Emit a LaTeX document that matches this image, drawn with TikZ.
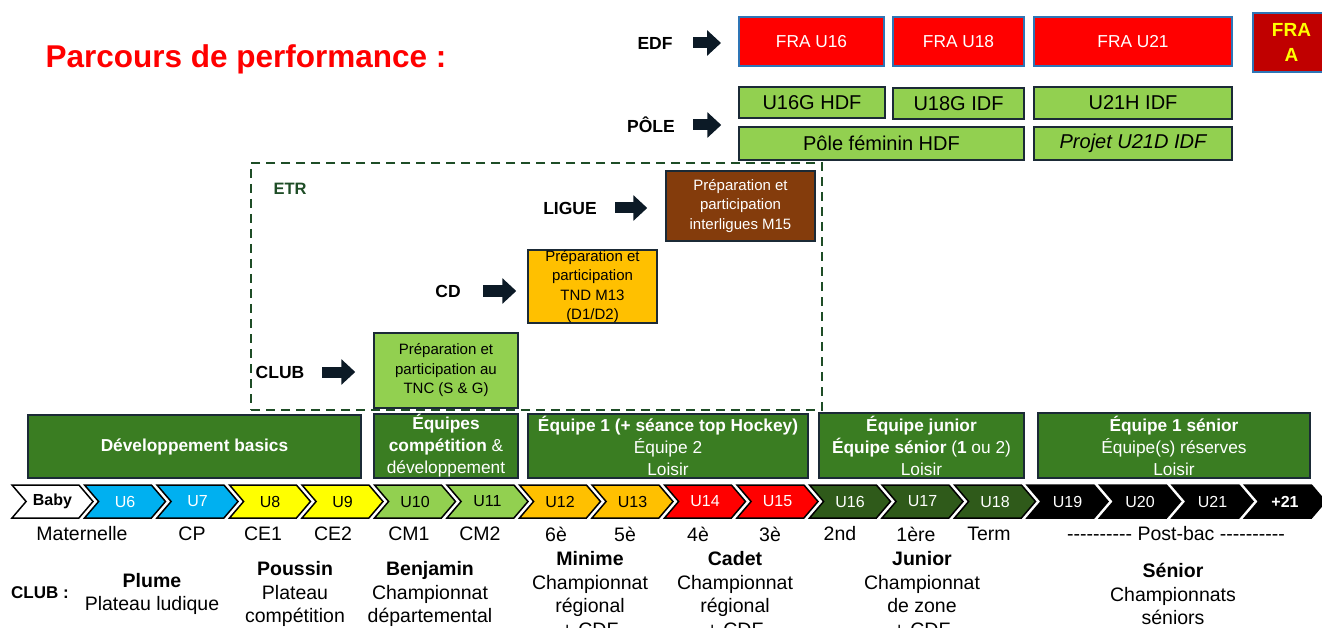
\documentclass[tikz,border=0pt]{standalone}
\usepackage{fontspec}
\setmainfont{Liberation Sans}
\usepackage{xcolor}
\usetikzlibrary{arrows.meta, positioning, shapes.symbols}

\definecolor{fraRed}{HTML}{FF0000}
\definecolor{fraBlue}{HTML}{2E75B6}
\definecolor{fraDark}{HTML}{C00000}
\definecolor{lightGreen}{HTML}{92D050}
\definecolor{boxLine}{HTML}{1B2A36}
\definecolor{bandGreen}{HTML}{3A7D22}
\definecolor{etrGreen}{HTML}{1E4D26}
\definecolor{brownBox}{HTML}{843C0C}
\definecolor{orangeBox}{HTML}{FFC000}
\definecolor{chevBlue}{HTML}{00B0F0}
\definecolor{chevYellow}{HTML}{FFFF00}
\definecolor{chevDark}{HTML}{2F5A1A}
\definecolor{arrowInk}{HTML}{0C1A26}

% ten plain hyphens, no TeX dash ligature
\newcommand{\tenhyph}{-{}-{}-{}-{}-{}-{}-{}-{}-{}-}

\tikzset{
  box/.style={draw=boxLine, line width=1.5pt, inner sep=0pt, align=center},
  edfbox/.style={box, draw=fraBlue, line width=2pt, fill=fraRed, text=white, minimum height=49pt, font=\fontsize{17.3}{20}\selectfont},
  polebox/.style={box, fill=lightGreen, font=\fontsize{20}{24}\selectfont},
  band/.style={box, fill=bandGreen, text=white, font=\fontsize{17.3}{22}\selectfont},
  etrbox/.style={box, font=\fontsize{15}{19.5}\selectfont},
  lab/.style={font=\bfseries\fontsize{17.5}{20}\selectfont},
  bigarrow/.style={arrowInk, line width=11pt, -{Triangle[length=14pt, width=25pt]}},
  chev/.style={signal, signal from=west, signal to=east, signal pointer angle=99,
    draw=black, line width=1.5pt, minimum width=81pt, minimum height=33pt,
    inner sep=0pt, font=\fontsize{16}{18}\selectfont},
  grade/.style={font=\fontsize{19.5}{23.5}\selectfont},
  level/.style={align=center, font=\fontsize{19.5}{23.5}\selectfont},
}

\begin{document}
\begin{tikzpicture}[x=1pt, y=-1pt]
    \path[use as bounding box] (0,0) rectangle (1322,628);
    \clip (0,0) rectangle (1322,628);

    % title
    \node[anchor=west, text=fraRed, font=\bfseries\fontsize{31.5}{36}\selectfont] (title) at (42,59) {Parcours de performance :};

    % EDF row
    \node[lab] (edf) at (655,43) {EDF};
    \node[edfbox, minimum width=145pt] (fra16) at (811.5,41.5) {FRA U16};
    \node[edfbox, minimum width=131pt] (fra18) at (958.5,41.5) {FRA U18};
    \node[edfbox, minimum width=198pt] (fra21) at (1133,41.5) {FRA U21};
    \node[box, draw=fraBlue, line width=2pt, fill=fraDark, text=chevYellow, minimum width=77pt, minimum height=59pt,
          font=\bfseries\fontsize{19}{25}\selectfont] (fraA) at (1291.5,42.5) {FRA\\A};

    % POLE rows
    \node[lab] (pole) at (651,125) {PÔLE};
    \node[polebox, minimum width=146pt, minimum height=31pt] (u16g) at (812,102.5) {U16G HDF};
    \node[polebox, minimum width=131pt, minimum height=31pt] (u18g) at (958.5,103.5) {U18G IDF};
    \node[polebox, minimum width=198pt, minimum height=32pt] (u21h) at (1133,103) {U21H IDF};
    \node[polebox, minimum width=285pt, minimum height=33pt] (polefem) at (881.5,143.5) {Pôle féminin HDF};
    \node[polebox, minimum width=198pt, minimum height=33pt] (u21d) at (1133,143.5) {\itshape Projet U21D IDF};

    % ETR frame
    \node[draw=etrGreen, line width=2.5pt, dash pattern=on 9pt off 6pt, minimum width=571pt, minimum height=247pt] (etr) at (536.5,286.5) {};
    \node[text=etrGreen, font=\bfseries\fontsize{16.5}{20}\selectfont] (etrlab) at (290,189) {ETR};

    \node[lab] (ligue) at (570,208) {LIGUE};
    \node[etrbox, fill=brownBox, text=white, minimum width=149pt, minimum height=70pt] (m15) at (740.5,206) {Préparation et\\participation\\interligues M15};
    \node[lab] (cd) at (448,291) {CD};
    \node[etrbox, fill=orangeBox, minimum width=129pt, minimum height=73pt] (tnd) at (592.5,286.5) {Préparation et\\participation\\TND M13\\(D1/D2)};
    \node[lab] (club) at (280,372) {CLUB};
    \node[etrbox, fill=lightGreen, minimum width=144pt, minimum height=75pt] (tnc) at (446,370.5) {Préparation et\\participation au\\TNC (S \& G)};

    % arrows
    \draw[bigarrow, shorten <=38pt, shorten >=17pt] (edf.center) -- (edf.center -| fra16.west);
    \draw[bigarrow, shorten <=42pt, shorten >=17pt] (pole.center) -- (pole.center -| u16g.west);
    \draw[bigarrow, shorten <=45pt, shorten >=18pt] (ligue.center) -- (ligue.center -| m15.west);
    \draw[bigarrow, shorten <=35pt, shorten >=11pt] (cd.center) -- (cd.center -| tnd.west);
    \draw[bigarrow, shorten <=42pt, shorten >=18pt] (club.center) -- (club.center -| tnc.west);

    % team bands
    \node[band, minimum width=333pt, minimum height=63pt] (devbasic) at (194.5,446.5) {\bfseries Développement basics};
    \node[band, minimum width=144pt, minimum height=64pt] (equipcomp) at (446,446) {\textbf{Équipes}\\\textbf{compétition} \&\\développement};
    \node[band, minimum width=280pt, minimum height=64pt] (equipe1) at (668,446) {\textbf{Équipe 1 (+ séance top Hockey)}\\Équipe 2\\Loisir};
    \node[band, minimum width=205pt, minimum height=65pt] (equipjun) at (921.5,445.5) {\textbf{Équipe junior}\\\textbf{Équipe sénior} (\textbf{1} ou 2)\\Loisir};
    \node[band, minimum width=272pt, minimum height=65pt] (equipsen) at (1174,445.5) {\textbf{Équipe 1 sénior}\\Équipe(s) réserves\\Loisir};

    % age chevrons
    \foreach \lbl/\col/\ink [count=\i from 0] in {\textbf{Baby}/white/black, U6/chevBlue/white, U7/chevBlue/white,
        U8/chevYellow/black, U9/chevYellow/black, U10/lightGreen/black, U11/lightGreen/black,
        U12/orangeBox/black, U13/orangeBox/black, U14/fraRed/white, U15/fraRed/white,
        U16/chevDark/white, U17/chevDark/white, U18/chevDark/white, U19/black/white,
        U20/black/white, U21/black/white, \textbf{+21}/black/white}
        \node[chev, fill=\col, text=\ink] (chev\i) at ({52.5+72.5*\i},501.5) {\lbl};

    % school grades
    \foreach \gx/\gtxt [count=\i] in {82/Maternelle, 192/CP, 263/CE1, 333/CE2, 409/CM1, 480/CM2,
        556/6è, 625/5è, 698/4è, 770/3è, 840/2nd, 916/1ère, 989/Term}
        \node[grade] (grade\i) at (\gx,534) {\gtxt};
    \node[grade] (postbac) at (1176,534) {\tenhyph{} Post-bac \tenhyph};

    % club levels
    \node[font=\bfseries\fontsize{17}{20}\selectfont] (clubtitle) at (40,593) {CLUB :};
    \node[level] (plume) at (152,594) {\textbf{Plume}\\Plateau ludique};
    \node[level] (poussin) at (295,594) {\textbf{Poussin}\\Plateau\\compétition};
    \node[level] (benjamin) at (430,594) {\textbf{Benjamin}\\Championnat\\départemental};
    \node[level] (minime) at (590,594) {\textbf{Minime}\\Championnat\\régional\\+ CDF};
    \node[level] (cadet) at (735,594) {\textbf{Cadet}\\Championnat\\régional\\+ CDF};
    \node[level] (junior) at (922,594) {\textbf{Junior}\\Championnat\\de zone\\+ CDF};
    \node[level] (senior) at (1173,594) {\textbf{Sénior}\\Championnats\\séniors};
\end{tikzpicture}
\end{document}
